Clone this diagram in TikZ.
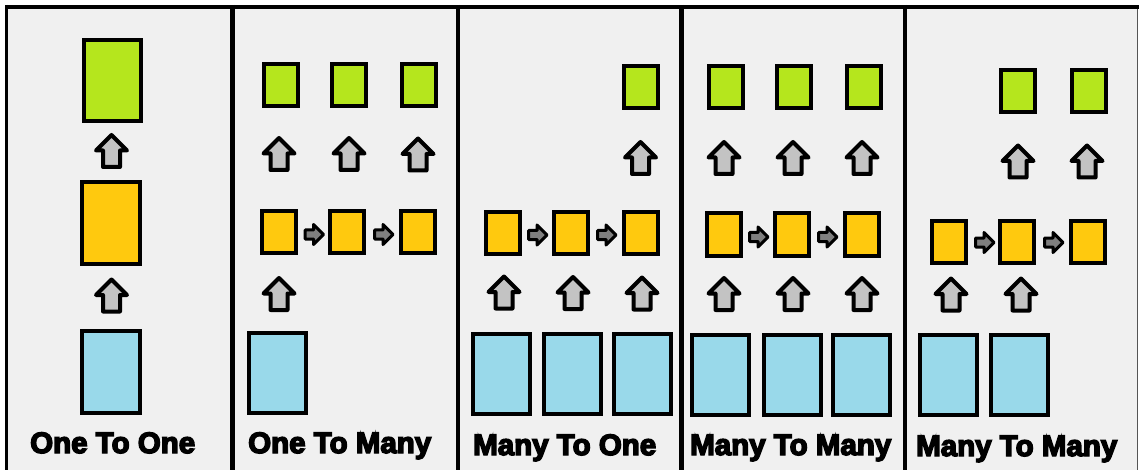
\documentclass[tikz,border=0pt]{standalone}
\usepackage{fontspec}
\newfontfamily\labelfont{Liberation Sans}[BoldFeatures={FakeBold=5}]
\definecolor{panelbg}{HTML}{F0F0F0}
\definecolor{outgreen}{HTML}{B5E61D}
\definecolor{hidyellow}{HTML}{FFC90E}
\definecolor{inblue}{HTML}{99D9EA}
\definecolor{upfill}{HTML}{C3C3C3}
\definecolor{rightfill}{HTML}{7F7F7F}
\definecolor{edgegray}{HTML}{555555}

\begin{document}
\begin{tikzpicture}[x=1pt,y=-1pt,
  cell/.style={draw=black, line width=4pt, inner sep=0pt},
  bigout/.style={cell, fill=outgreen, minimum width=57pt, minimum height=81pt},
  bighid/.style={cell, fill=hidyellow, minimum width=58pt, minimum height=82pt},
  bigin/.style={cell, fill=inblue, minimum width=58pt, minimum height=82pt},
  outcell/.style={cell, fill=outgreen, minimum width=34pt, minimum height=42pt},
  hidcell/.style={cell, fill=hidyellow, minimum width=34pt, minimum height=42pt},
  incell/.style={cell, fill=inblue, minimum width=57pt, minimum height=80pt},
  % block arrow pointing upwards (y grows downwards here)
  uparrow/.pic={
    \filldraw[draw=black, fill=upfill, line width=4pt, line join=round]
      (0,-16) -- (15.5,-0.5) -- (8.5,-0.5) -- (8.5,16) -- (-8.5,16)
      -- (-8.5,-0.5) -- (-15.5,-0.5) -- cycle;
  },
  % small block arrow pointing right
  rightarrow/.pic={
    \filldraw[draw=black, fill=rightfill, line width=3pt, line join=round]
      (10,0) -- (0,-10) -- (0,-4.5) -- (-8.5,-4.5) -- (-8.5,4.5)
      -- (0,4.5) -- (0,10) -- cycle;
  },
  title/.style={font=\labelfont\bfseries\fontsize{29.5}{30}\selectfont,
    anchor=base west, inner sep=0pt}
]
\useasboundingbox (0,0) rectangle (1139,470);

% background and panel frame
\fill[white] (0,0) rectangle (1139,470);
\fill[panelbg] (7,7) rectangle (1137,470);
\draw[line width=4pt] (5,7) -- (1139,7);
\draw[line width=3pt] (6.5,5) -- (6.5,470);
\foreach \xd in {232.5,458,681.5,905}
  \draw[line width=4.5pt] (\xd,5) -- (\xd,470);
\draw[line width=1.5pt, edgegray] (1137.5,9) -- (1137.5,470);

% one to one
\node[bigout] (a-o) at (112.5,80.5) {};
\pic (a-u2) at (111.5,151) {uparrow};
\node[bighid] (a-h) at (111,223) {};
\pic (a-u1) at (111.5,295.5) {uparrow};
\node[bigin] (a-i) at (111,372) {};
\node[title] (a-t) at (30,453) {One To One};

% one to many
\node[outcell] (b-o1) at (281,85) {};
\node[outcell] (b-o2) at (348.5,85) {};
\node[outcell] (b-o3) at (419,85) {};
\pic (b-u21) at (279,154) {uparrow};
\pic (b-u22) at (349,154) {uparrow};
\pic (b-u23) at (418,154.5) {uparrow};
\node[hidcell] (b-h1) at (279,232) {};
\node[hidcell] (b-h2) at (347,232) {};
\node[hidcell] (b-h3) at (417.5,232) {};
\pic (b-r1) at (313.5,234.5) {rightarrow};
\pic (b-r2) at (383,234.5) {rightarrow};
\pic (b-u11) at (279,294) {uparrow};
\node[incell] (b-i1) at (277.5,373) {};
\node[title] (b-t) at (248,453) {One To Many};

% many to one
\node[outcell] (c-o3) at (641,87.5) {};
\pic (c-u23) at (640.5,158) {uparrow};
\node[hidcell] (c-h1) at (502.5,233) {};
\node[hidcell] (c-h2) at (570.5,233) {};
\node[hidcell] (c-h3) at (641,233) {};
\pic (c-r1) at (537,235) {rightarrow};
\pic (c-r2) at (606,235) {rightarrow};
\pic (c-u11) at (504,292.5) {uparrow};
\pic (c-u12) at (573,293) {uparrow};
\pic (c-u13) at (642,293.5) {uparrow};
\node[incell] (c-i1) at (501,374) {};
\node[incell] (c-i2) at (572,374) {};
\node[incell] (c-i3) at (642,374) {};
\node[title] (c-t) at (473,455) {Many To One};

% many to many, synchronised
\node[outcell] (d-o1) at (725.5,87.5) {};
\node[outcell] (d-o2) at (793.5,87.5) {};
\node[outcell] (d-o3) at (863.5,87.5) {};
\pic (d-u21) at (724,158) {uparrow};
\pic (d-u22) at (793,158) {uparrow};
\pic (d-u23) at (862,158) {uparrow};
\node[hidcell] (d-h1) at (724,234.5) {};
\node[hidcell] (d-h2) at (792,234.5) {};
\node[hidcell] (d-h3) at (861.5,234.5) {};
\pic (d-r1) at (758,237) {rightarrow};
\pic (d-r2) at (827,237) {rightarrow};
\pic (d-u11) at (724,294) {uparrow};
\pic (d-u12) at (793,294) {uparrow};
\pic (d-u13) at (862,294) {uparrow};
\node[incell] (d-i1) at (720,375) {};
\node[incell] (d-i2) at (792,375) {};
\node[incell] (d-i3) at (861,375) {};
\node[title] (d-t) at (690,455) {Many To Many};

% many to many, delayed
\node[outcell] (e-o2) at (1018,91.5) {};
\node[outcell] (e-o3) at (1088.5,91.5) {};
\pic (e-u22) at (1018,161.5) {uparrow};
\pic (e-u23) at (1087,161.5) {uparrow};
\node[hidcell] (e-h1) at (949,242) {};
\node[hidcell] (e-h2) at (1017,242) {};
\node[hidcell] (e-h3) at (1087.5,242) {};
\pic (e-r1) at (984,242.5) {rightarrow};
\pic (e-r2) at (1053,242.5) {rightarrow};
\pic (e-u11) at (951,294.5) {uparrow};
\pic (e-u12) at (1021,294.5) {uparrow};
\node[incell] (e-i1) at (948.5,375) {};
\node[incell] (e-i2) at (1019,375) {};
\node[title] (e-t) at (916,456) {Many To Many};
\end{tikzpicture}
\end{document}
